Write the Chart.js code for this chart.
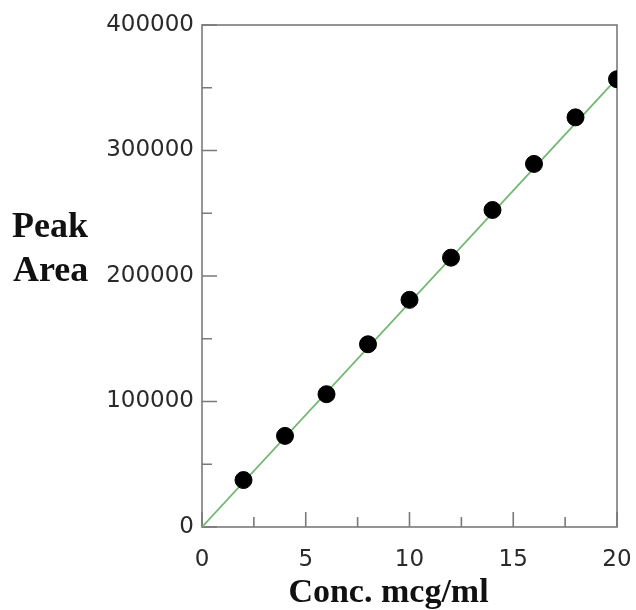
<!DOCTYPE html>
<html>
<head>
<meta charset="utf-8">
<script src="https://cdn.jsdelivr.net/npm/chart.js@4.4.1/dist/chart.umd.min.js"></script>
<style>
html,body{margin:0;padding:0;background:#fff;}
#wrap{width:636px;height:610px;}
</style>
</head>
<body>
<div id="wrap"><canvas id="c" width="636" height="610"></canvas></div>
<script>
// Data
const conc = [2, 4, 6, 8, 10, 12, 14, 16, 18, 20];
const peakArea = [37400, 72600, 105800, 145600, 181000, 214600, 252600, 289300, 326400, 356800];
const fitX = [0, 20];
const fitY = [0, 357500];
const xTicks = [0, 5, 10, 15, 20];
const yTicks = [0, 100000, 200000, 300000, 400000];
const xMinor = [2.5, 7.5, 12.5, 17.5];
const yMinor = [50000, 150000, 250000, 350000];
const xTitle = 'Conc. mcg/ml';
const yTitle = ['Peak', 'Area'];

const boxPlugin = {
  id: 'box',
  beforeDatasetsDraw(chart) {
    const {ctx, chartArea: a, scales: {x, y}} = chart;
    ctx.save();
    ctx.strokeStyle = '#7a7a7a';
    ctx.lineWidth = 1.6;
    ctx.strokeRect(a.left, a.top, a.right - a.left, a.bottom - a.top);
    ctx.beginPath();
    xTicks.forEach(v => { const p = x.getPixelForValue(v); ctx.moveTo(p, a.bottom); ctx.lineTo(p, a.bottom - 15); });
    xMinor.forEach(v => { const p = x.getPixelForValue(v); ctx.moveTo(p, a.bottom); ctx.lineTo(p, a.bottom - 10); });
    yTicks.forEach(v => { const p = y.getPixelForValue(v); ctx.moveTo(a.left, p); ctx.lineTo(a.left + 15, p); });
    yMinor.forEach(v => { const p = y.getPixelForValue(v); ctx.moveTo(a.left, p); ctx.lineTo(a.left + 10, p); });
    ctx.stroke();
    ctx.restore();
  },
  afterDraw(chart) {
    const {ctx, chartArea: a} = chart;
    ctx.save();
    ctx.fillStyle = '#111';
    ctx.font = 'bold 34px "Liberation Serif", "Times New Roman", serif';
    ctx.textAlign = 'center';
    ctx.textBaseline = 'alphabetic';
    ctx.fillText(xTitle, (a.left + a.right) / 2 - 21, 602);
    ctx.font = 'bold 36px "Liberation Serif", "Times New Roman", serif';
    ctx.textAlign = 'left';
    ctx.fillText(yTitle[0], 12, 237);
    ctx.fillText(yTitle[1], 13, 281);
    ctx.restore();
  }
};

const tickFont = {family: '"DejaVu Sans", Verdana, sans-serif', size: 23};

new Chart(document.getElementById('c'), {
  type: 'scatter',
  data: {
    datasets: [
      {
        label: 'Data',
        data: conc.map((v, i) => ({x: v, y: peakArea[i]})),
        backgroundColor: '#000',
        borderColor: '#000',
        pointRadius: 8.5,
        pointHoverRadius: 8.5,
        order: 1
      },
      {
        type: 'line',
        label: 'Fit',
        data: fitX.map((v, i) => ({x: v, y: fitY[i]})),
        borderColor: '#74b874',
        borderWidth: 1.8,
        pointRadius: 0,
        fill: false,
        order: 2
      }
    ]
  },
  options: {
    responsive: false,
    animation: false,
    devicePixelRatio: 1,
    layout: {padding: {left: 0, top: 25, right: 19, bottom: 0}},
    plugins: {legend: {display: false}, tooltip: {enabled: false}, title: {display: false}},
    scales: {
      x: {
        type: 'linear', min: 0, max: 20,
        grid: {display: false, drawTicks: false},
        border: {display: false},
        afterBuildTicks: s => { s.ticks = xTicks.map(v => ({value: v})); },
        afterFit: s => { s.height = 83; s.paddingLeft = 0; s.paddingRight = 0; },
        ticks: {font: tickFont, color: '#2a2a2a', padding: 19, maxRotation: 0}
      },
      y: {
        type: 'linear', min: 0, max: 400000,
        grid: {display: false, drawTicks: false},
        border: {display: false},
        afterBuildTicks: s => { s.ticks = yTicks.map(v => ({value: v})); },
        afterFit: s => { s.width = 202; s.paddingTop = 0; s.paddingBottom = 0; },
        ticks: {font: tickFont, color: '#2a2a2a', padding: 8, callback: v => String(v)}
      }
    }
  },
  plugins: [boxPlugin]
});
</script>
</body>
</html>
